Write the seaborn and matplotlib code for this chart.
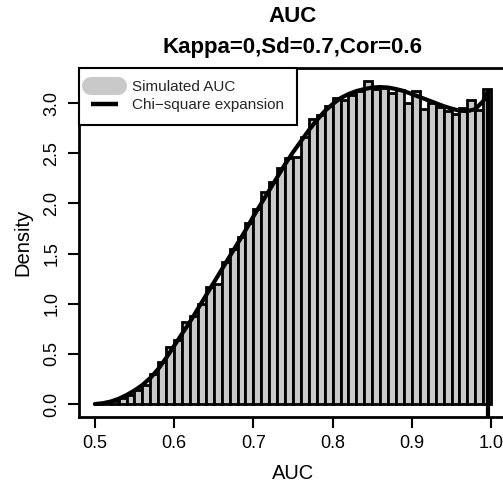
import numpy as np
import pandas as pd
import matplotlib
matplotlib.use("Agg")
import matplotlib.pyplot as plt
from matplotlib.lines import Line2D
import seaborn as sns

# ---- data ----
bin_edges = [round(v, 2) for v in np.linspace(0.50, 1.00, 51)]
density = [0.005, 0.015, 0.035, 0.06, 0.09, 0.14, 0.19, 0.30, 0.42, 0.57,
           0.64, 0.82, 0.88, 1.00, 1.17, 1.20, 1.42, 1.55, 1.67, 1.80,
           1.94, 2.11, 2.21, 2.35, 2.45, 2.46, 2.66, 2.84, 2.88, 2.97,
           3.05, 3.03, 3.08, 3.12, 3.22, 3.14, 3.15, 3.10, 3.13, 3.00,
           3.12, 2.94, 3.00, 2.96, 2.92, 2.89, 2.95, 3.03, 2.93, 3.14]

curve_x = [0.50, 0.51, 0.52, 0.53, 0.54, 0.55, 0.56, 0.57, 0.58, 0.59,
           0.60, 0.61, 0.62, 0.63, 0.64, 0.65, 0.66, 0.67, 0.68, 0.69,
           0.70, 0.71, 0.72, 0.73, 0.74, 0.75, 0.76, 0.77, 0.78, 0.79,
           0.80, 0.81, 0.82, 0.83, 0.84, 0.85, 0.86, 0.87, 0.88, 0.89,
           0.90, 0.91, 0.92, 0.93, 0.94, 0.95, 0.96, 0.97, 0.98, 0.99,
           0.996, 0.996]
curve_y = [0.000, 0.008, 0.025, 0.052, 0.09, 0.135, 0.19, 0.26, 0.35, 0.46,
           0.58, 0.70, 0.82, 0.95, 1.08, 1.21, 1.34, 1.47, 1.60, 1.73,
           1.87, 2.00, 2.13, 2.26, 2.39, 2.51, 2.62, 2.73, 2.83, 2.92,
           2.99, 3.05, 3.09, 3.12, 3.14, 3.155, 3.16, 3.155, 3.14, 3.12,
           3.09, 3.06, 3.03, 3.00, 2.97, 2.945, 2.925, 2.92, 2.94, 3.02,
           3.12, -1.0]

x_ticks = [0.5, 0.6, 0.7, 0.8, 0.9, 1.0]
x_tick_labels = ["0.5", "0.6", "0.7", "0.8", "0.9", "1.0"]
y_ticks = [0.0, 0.5, 1.0, 1.5, 2.0, 2.5, 3.0]
y_tick_labels = ["0.0", "0.5", "1.0", "1.5", "2.0", "2.5", "3.0"]

title1 = "AUC"
title2 = "Kappa=0,Sd=0.7,Cor=0.6"
legend_labels = ["Simulated AUC", "Chi\u2212square expansion"]

# ---- style ----
sns.set_theme(style="ticks")
plt.rcParams["font.family"] = ["Liberation Sans", "DejaVu Sans"]

fig = plt.figure(figsize=(5.03, 4.87), dpi=100)
ax = fig.add_axes([79 / 503, 1 - 417 / 487, 428 / 503, 349 / 487])

bar_fill = "#c9c9c9"
hist_df = pd.DataFrame({
    "mid": [(bin_edges[i] + bin_edges[i + 1]) / 2 for i in range(len(density))],
    "density": density,
})
sns.histplot(data=hist_df, x="mid", weights="density", bins=bin_edges,
             stat="count", color=bar_fill, edgecolor="black", linewidth=2.0,
             alpha=1, ax=ax, zorder=2)
curve_df = pd.DataFrame({"x": curve_x, "y": curve_y})
sns.lineplot(data=curve_df, x="x", y="y", sort=False, estimator=None,
             color="black", linewidth=3.0, ax=ax, zorder=3)

ax.set_xlim(0.48, 1.02)
ax.set_ylim(-0.129, 3.35)

ax.set_xticks(x_ticks)
ax.set_xticklabels(x_tick_labels)
ax.set_yticks(y_ticks)
ax.set_yticklabels(y_tick_labels, rotation=90, va="center")
ax.tick_params(axis="both", direction="out", length=8, width=1.5,
               labelsize=13, color="black", labelcolor="black")
ax.tick_params(axis="x", pad=5)
ax.tick_params(axis="y", pad=5.5)

for s in ax.spines.values():
    s.set_visible(True)
    s.set_linewidth(2.0)
    s.set_color("black")

ax.set_xlabel("AUC", fontsize=14.5, color="black")
ax.set_ylabel("Density", fontsize=14.5, color="black")
ax.xaxis.set_label_coords(0.5, -0.163)
ax.xaxis.label.set_va("center")
ax.yaxis.set_label_coords(-0.13, 0.5)
ax.yaxis.label.set_va("center")

fig.text(293 / 503, 1 - 17 / 487, title1, ha="center", va="center",
         fontsize=16, fontweight="bold", color="black")
fig.text(293 / 503, 1 - 47 / 487, title2, ha="center", va="center",
         fontsize=16, fontweight="bold", color="black")

handles = [Line2D([0], [0], color=bar_fill, lw=13, solid_capstyle="round"),
           Line2D([0], [0], color="black", lw=3.2, solid_capstyle="butt")]
leg = ax.legend(handles, legend_labels, loc="upper left", borderaxespad=0,
                fontsize=11, frameon=True, fancybox=False, framealpha=1,
                borderpad=0.8, handlelength=1.75, handletextpad=0.95,
                labelspacing=0.28)
leg.get_frame().set_edgecolor("black")
leg.get_frame().set_linewidth(1.5)
leg.set_zorder(5)

fig.savefig("out.png", dpi=100)
